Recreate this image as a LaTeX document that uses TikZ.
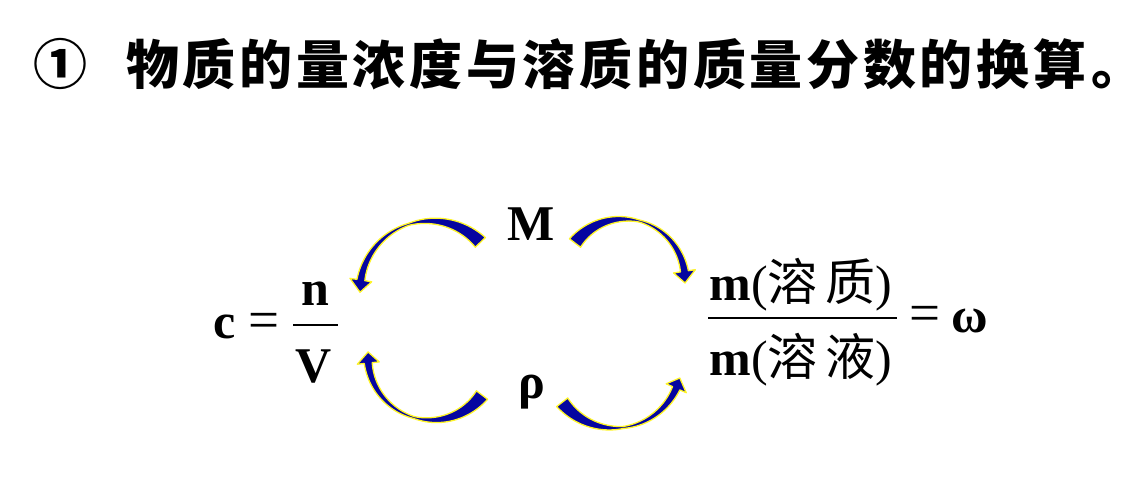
\documentclass[tikz,border=0pt]{standalone}
\usepackage{fontspec}
\setmainfont{Liberation Serif}
\newfontfamily\cjk{Noto Sans CJK SC}
\newfontfamily\cjkt{Noto Sans CJK SC}[LetterSpace=7]
\newfontfamily\cjkp{Noto Sans CJK SC}[RawFeature=+halt]
\definecolor{arrblue}{RGB}{5,5,160}
\definecolor{arryellow}{RGB}{255,245,40}
\tikzset{
  fm/.style={inner sep=0pt, outer sep=0pt, font=\fontsize{50}{56}\selectfont\bfseries},
  fmr/.style={inner sep=0pt, outer sep=0pt, font=\fontsize{55}{60}\selectfont},
  titlef/.style={inner sep=0pt, outer sep=0pt, font=\fontsize{53}{60}\selectfont\cjkt\bfseries},
  periodf/.style={inner sep=0pt, outer sep=0pt, font=\fontsize{53}{60}\selectfont\cjkp\bfseries},
  circf/.style={inner sep=0pt, outer sep=0pt, font=\fontsize{54}{60}\selectfont\cjk\bfseries},
  barline/.style={line width=2.4pt},
  curvy/.style={fill=arrblue, draw=arryellow, line width=1.3pt, line join=round}
}
\newcommand\curvarr[6]{%
\path[curvy] plot[domain=0:1,samples=50,variable=\s]
  ({#1+(#3+0.5*wf(\s))*cos(#4+\s*(#5-#4))},{#2+(#3+0.5*wf(\s))*sin(#4+\s*(#5-#4))})
 -- ({#1+(#3+11)*cos(#5)},{#2+(#3+11)*sin(#5)})
 -- ({#1+#3*cos(#6)},{#2+#3*sin(#6)})
 -- ({#1+(#3-11)*cos(#5)},{#2+(#3-11)*sin(#5)})
 -- plot[domain=1:0,samples=50,variable=\s]
  ({#1+(#3-0.5*wf(\s))*cos(#4+\s*(#5-#4))},{#2+(#3-0.5*wf(\s))*sin(#4+\s*(#5-#4))})
 -- cycle;}
\begin{document}
\begin{tikzpicture}[x=1pt,y=-1pt,
  declare function={wf(\s)=2+12*max(0,1-\s/0.5)+6*max(0,(\s-0.5)/0.5);}]
\useasboundingbox (0,0) rectangle (1128,480);
% title
\node[circf, anchor=base] (num) at (61,84) {①};
\node[titlef, anchor=base west] (title) at (126,84) {物质的量浓度与溶质的质量分数的换算};
\node[periodf, anchor=base west] (period) at (1091,84) {。};
% left formula
\node[fm, anchor=base] (c) at (225,338) {c};
\node[fmr, anchor=base] (eq1) at (264,338) {=};
\node[fm, anchor=base] (n) at (315,305) {n};
\node[fm, anchor=base] (V) at (314,382) {V};
\coordinate (lb1) at (293,325);
\coordinate (lb2) at (338,325);
\draw[barline] (lb1) -- (lb2);
% middle labels
\node[fm, anchor=base] (M) at (531,240) {M};
\node[fm, anchor=base] (rho) at (532,398) {ρ};
% right formula
\node[fm, anchor=base] (top) at (801,300) {m{\mdseries(}{\mdseries\cjk 溶\hspace{8pt}质}{\mdseries)}};
\node[fm, anchor=base] (bot) at (801,375) {m{\mdseries(}{\mdseries\cjk 溶\hspace{8pt}液}{\mdseries)}};
\coordinate (rb1) at (708,318);
\coordinate (rb2) at (897,318);
\draw[barline] (rb1) -- (rb2);
\node[fmr, anchor=base] (eq2) at (925,331) {=};
\node[fm, anchor=base] (omega) at (970,332) {ω};
% curved arrows
\curvarr{430}{291}{70}{-44}{-171}{-181}
\curvarr{623.7}{280.4}{61.4}{-142.5}{-8.5}{2.4}
\curvarr{431.5}{356.4}{63.6}{37.4}{174}{184}
\curvarr{615}{361}{67}{142}{24}{14.7}
\end{tikzpicture}
\end{document}
